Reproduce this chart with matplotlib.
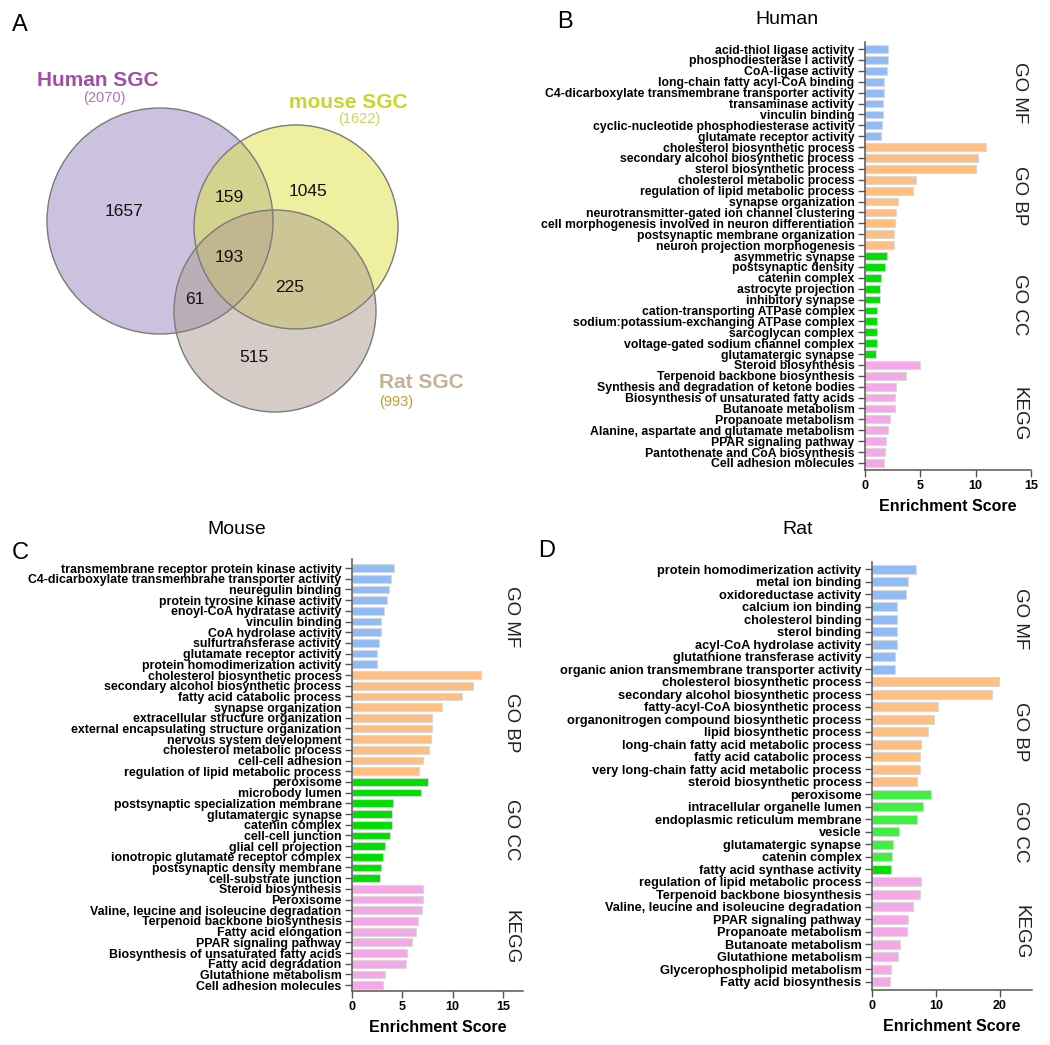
import matplotlib
matplotlib.use("Agg")
import matplotlib.pyplot as plt
from matplotlib.patches import Circle
import matplotlib.transforms as mtransforms

plt.rcParams['font.family'] = ['Liberation Sans', 'DejaVu Sans']

W, H = 1050, 1045

# ---------------- data ----------------
venn_counts = {'H': 1657, 'M': 1045, 'R': 515, 'HM': 159, 'HR': 61, 'MR': 225, 'HMR': 193}
venn_totals = {'H': 2070, 'M': 1622, 'R': 993}

groups = ['GO MF', 'GO BP', 'GO CC', 'KEGG']
group_colors = {'GO MF': '#8fbcf6', 'GO BP': '#ffbf80', 'GO CC': '#00e000', 'KEGG': '#f5a8e6'}

human_terms = [
    ['acid-thiol ligase activity', 'phosphodiesterase I activity', 'CoA-ligase activity',
     'long-chain fatty acyl-CoA binding', 'C4-dicarboxylate transmembrane transporter activity',
     'transaminase activity', 'vinculin binding', 'cyclic-nucleotide phosphodiesterase activity',
     'glutamate receptor activity'],
    ['cholesterol biosynthetic process', 'secondary alcohol biosynthetic process',
     'sterol biosynthetic process', 'cholesterol metabolic process',
     'regulation of lipid metabolic process', 'synapse organization',
     'neurotransmitter-gated ion channel clustering',
     'cell morphogenesis involved in neuron differentiation',
     'postsynaptic membrane organization', 'neuron projection morphogenesis'],
    ['asymmetric synapse', 'postsynaptic density', 'catenin complex', 'astrocyte projection',
     'inhibitory synapse', 'cation-transporting ATPase complex',
     'sodium:potassium-exchanging ATPase complex', 'sarcoglycan complex',
     'voltage-gated sodium channel complex', 'glutamatergic synapse'],
    ['Steroid biosynthesis', 'Terpenoid backbone biosynthesis',
     'Synthesis and degradation of ketone bodies', 'Biosynthesis of unsaturated fatty acids',
     'Butanoate metabolism', 'Propanoate metabolism',
     'Alanine, aspartate and glutamate metabolism', 'PPAR signaling pathway',
     'Pantothenate and CoA biosynthesis', 'Cell adhesion molecules'],
]
human_scores = [
    [2.11, 2.05, 1.96, 1.72, 1.72, 1.66, 1.66, 1.57, 1.42],
    [10.93, 10.17, 10.02, 4.62, 4.38, 2.96, 2.84, 2.75, 2.66, 2.63],
    [2.02, 1.81, 1.45, 1.39, 1.39, 1.12, 1.12, 1.06, 1.06, 1.0],
    [5.01, 3.68, 2.84, 2.75, 2.69, 2.26, 2.11, 1.87, 1.78, 1.72],
]

mouse_terms = [
    ['transmembrane receptor protein kinase activity',
     'C4-dicarboxylate transmembrane transporter activity', 'neuregulin binding',
     'protein tyrosine kinase activity', 'enoyl-CoA hydratase activity', 'vinculin binding',
     'CoA hydrolase activity', 'sulfurtransferase activity', 'glutamate receptor activity',
     'protein homodimerization activity'],
    ['cholesterol biosynthetic process', 'secondary alcohol biosynthetic process',
     'fatty acid catabolic process', 'synapse organization',
     'extracellular structure organization', 'external encapsulating structure organization',
     'nervous system development', 'cholesterol metabolic process', 'cell-cell adhesion',
     'regulation of lipid metabolic process'],
    ['peroxisome', 'microbody lumen', 'postsynaptic specialization membrane',
     'glutamatergic synapse', 'catenin complex', 'cell-cell junction', 'glial cell projection',
     'ionotropic glutamate receptor complex', 'postsynaptic density membrane',
     'cell-substrate junction'],
    ['Steroid biosynthesis', 'Peroxisome', 'Valine, leucine and isoleucine degradation',
     'Terpenoid backbone biosynthesis', 'Fatty acid elongation', 'PPAR signaling pathway',
     'Biosynthesis of unsaturated fatty acids', 'Fatty acid degradation',
     'Glutathione metabolism', 'Cell adhesion molecules'],
]
mouse_scores = [
    [4.19, 3.86, 3.69, 3.43, 3.2, 2.93, 2.93, 2.67, 2.5, 2.44],
    [12.86, 12.0, 10.95, 8.97, 7.98, 7.91, 7.81, 7.62, 7.09, 6.66],
    [7.58, 6.82, 4.06, 4.0, 3.96, 3.76, 3.33, 3.13, 2.93, 2.74],
    [7.06, 7.03, 7.0, 6.53, 6.33, 5.97, 5.44, 5.37, 3.26, 3.1],
]

rat_terms = [
    ['protein homodimerization activity', 'metal ion binding', 'oxidoreductase activity',
     'calcium ion binding', 'cholesterol binding', 'sterol binding',
     'acyl-CoA hydrolase activity', 'glutathione transferase activity',
     'organic anion transmembrane transporter activity'],
    ['cholesterol biosynthetic process', 'secondary alcohol biosynthetic process',
     'fatty-acyl-CoA biosynthetic process', 'organonitrogen compound biosynthetic process',
     'lipid biosynthetic process', 'long-chain fatty acid metabolic process',
     'fatty acid catabolic process', 'very long-chain fatty acid metabolic process',
     'steroid biosynthetic process'],
    ['peroxisome', 'intracellular organelle lumen', 'endoplasmic reticulum membrane',
     'vesicle', 'glutamatergic synapse', 'catenin complex', 'fatty acid synthase activity'],
    ['regulation of lipid metabolic process', 'Terpenoid backbone biosynthesis',
     'Valine, leucine and isoleucine degradation', 'PPAR signaling pathway',
     'Propanoate metabolism', 'Butanoate metabolism', 'Glutathione metabolism',
     'Glycerophospholipid metabolism', 'Fatty acid biosynthesis'],
]
rat_scores = [
    [6.86, 5.61, 5.3, 3.84, 3.84, 3.84, 3.84, 3.53, 3.53],
    [19.84, 18.75, 10.39, 9.71, 8.78, 7.69, 7.48, 7.53, 7.06],
    [9.19, 8.0, 7.06, 4.21, 3.27, 3.12, 3.01],
    [7.69, 7.43, 6.39, 5.56, 5.4, 4.31, 4.0, 3.01, 2.86],
]


def px_axes(fig, l, t, r, b):
    return fig.add_axes([l / W, 1 - b / H, (r - l) / W, (b - t) / H])


def enrichment_panel(fig, box, terms, scores, xmax, xticks, pad_top, pad_bot, fs=8.8, cc_color=None):
    ax = px_axes(fig, *box)
    labels, values, colors, centers = [], [], [], []
    for g, t, s in zip(groups, terms, scores):
        start = len(labels)
        labels += t
        values += s
        col = group_colors[g]
        if g == 'GO CC' and cc_color:
            colors += [cc_color] * (len(t) - 1) + [col]
        else:
            colors += [col] * len(t)
        centers.append((start + len(labels) - 1) / 2)
    y = list(range(len(labels)))
    ax.barh(y, values, height=0.72, color=colors, edgecolor='#d9d9d9', linewidth=0.8)
    ax.set_ylim(len(labels) - 1 + pad_bot, -pad_top)
    ax.set_xlim(0, xmax)
    ax.set_xticks(xticks)
    ax.set_yticks(y)
    ax.set_yticklabels(labels, fontsize=fs, fontweight='bold')
    for lab in ax.get_xticklabels():
        lab.set_fontweight('bold')
    ax.tick_params(axis='x', labelsize=9, length=5, width=1, color='#555555', pad=2)
    ax.tick_params(axis='y', length=5, width=1, color='#555555', pad=2.5)
    for side in ['top', 'right']:
        ax.spines[side].set_visible(False)
    for side in ['left', 'bottom']:
        ax.spines[side].set_color('#555555')
        ax.spines[side].set_linewidth(1.1)
    ax.set_xlabel('Enrichment Score', fontsize=11.5, fontweight='bold', labelpad=5)
    trans = mtransforms.blended_transform_factory(ax.transAxes, ax.transData)
    for g, c in zip(groups, centers):
        ax.text(0.93, c, g, transform=trans, rotation=270, ha='center', va='center',
                fontsize=13.5, color='#222222')
    return ax


fig = plt.figure(figsize=(W / 100, H / 100), dpi=100)

# ---------------- A: Venn ----------------
ax = px_axes(fig, 0, 0, 525, 525)
ax.set_xlim(0, 525)
ax.set_ylim(525, 0)
ax.axis('off')
circles = [((160, 221), 113, '#9787bf'), ((296, 227), 102, '#dfe341'), ((275, 311), 101, '#af9b91')]
for (cx, cy), r, col in circles:
    ax.add_patch(Circle((cx, cy), r, facecolor=col, alpha=0.5, edgecolor='none'))
for (cx, cy), r, col in circles:
    ax.add_patch(Circle((cx, cy), r, facecolor='none', edgecolor='#7a7a7a', linewidth=1))
region_pos = {'H': (124, 211), 'M': (308, 191), 'R': (254, 357), 'HM': (229, 198),
              'HR': (195, 300), 'MR': (290, 288), 'HMR': (229, 258)}
for k, v in venn_counts.items():
    ax.text(*region_pos[k], str(v), ha='center', va='center', fontsize=12.5, color='#111111')
ax.text(98, 80, 'Human SGC', ha='center', va='center', fontsize=15, fontweight='bold', color='#a14fa2')
ax.text(104, 98, '(%d)' % venn_totals['H'], ha='center', va='center', fontsize=10.5, color='#b36fb5')
ax.text(348, 102, 'mouse SGC', ha='center', va='center', fontsize=15, fontweight='bold', color='#c6d62c')
ax.text(359, 119, '(%d)' % venn_totals['M'], ha='center', va='center', fontsize=10.5, color='#c8d45a')
ax.text(421, 383, 'Rat SGC', ha='center', va='center', fontsize=15, fontweight='bold', color='#c2b396')
ax.text(396, 402, '(%d)' % venn_totals['R'], ha='center', va='center', fontsize=10.5, color='#c79a32')

# ---------------- B, C, D ----------------
enrichment_panel(fig, (865, 42, 1031, 470), human_terms, human_scores, 15, [0, 5, 10, 15], 0.65, 0.65)
enrichment_panel(fig, (352, 559, 523, 991), mouse_terms, mouse_scores, 17, [0, 5, 10, 15], 0.85, 0.55,
                 fs=8.9)
enrichment_panel(fig, (872, 562, 1032, 990), rat_terms, rat_scores, 25, [0, 10, 20], 0.56, 0.64,
                 fs=9.2, cc_color='#40f040')

fig.text(787 / W, 1 - 20 / H, 'Human', ha='center', va='center', fontsize=14)
fig.text(237 / W, 1 - 530 / H, 'Mouse', ha='center', va='center', fontsize=14)
fig.text(798 / W, 1 - 530 / H, 'Rat', ha='center', va='center', fontsize=14)

for letter, (x, y) in zip('ABCD', [(20, 25), (565, 22), (20, 553), (547, 551)]):
    fig.text(x / W, 1 - y / H, letter, ha='center', va='center', fontsize=17)

fig.savefig('out.png', dpi=100)
